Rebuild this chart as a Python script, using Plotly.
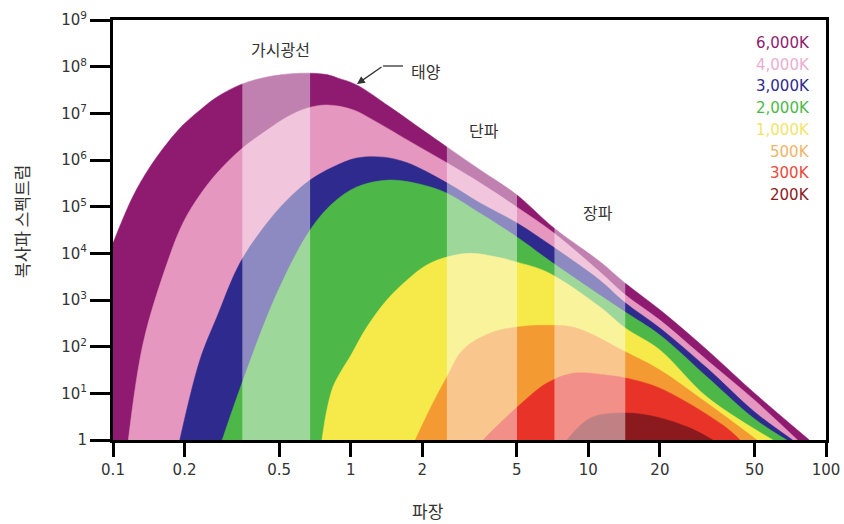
import plotly.graph_objects as go

# ---- data (wavelength in µm, spectral radiance) ----
wl_6000 = [0.100, 0.121, 0.143, 0.169, 0.197, 0.232, 0.274, 0.342, 0.445, 0.612, 0.794, 0.880, 1.06, 1.46, 2.01, 2.54, 3.50, 5.01, 7.10, 11.2, 14.3, 20.0, 31.6, 50.1, 85.1]
val_6000 = [1.66e4, 1.62e5, 7.08e5, 2.29e6, 5.62e6, 1.17e7, 2.24e7, 4.07e7, 6.03e7, 7.24e7, 6.76e7, 5.75e7, 4.07e7, 1.38e7, 4.37e6, 1.91e6, 6.17e5, 1.78e5, 3.63e4, 6.61e3, 2.29e3, 617, 85.1, 10.0, 1.0]

wl_4000 = [0.116, 0.134, 0.169, 0.197, 0.232, 0.274, 0.342, 0.445, 0.540, 0.655, 0.794, 1.02, 1.24, 1.73, 2.54, 3.50, 5.01, 7.10, 11.2, 14.3, 20.0, 31.6, 50.1, 75.9]
val_4000 = [1.0, 120, 6170, 4.47e4, 1.78e5, 5.25e5, 1.62e6, 4.37e6, 8.32e6, 1.29e7, 1.51e7, 1.20e7, 7.24e6, 2.69e6, 8.71e5, 3.24e5, 9.77e4, 2.82e4, 3.98e3, 1.29e3, 372, 51.3, 7.08, 1.0]

wl_3000 = [0.191, 0.232, 0.274, 0.342, 0.445, 0.540, 0.675, 0.843, 1.06, 1.37, 1.73, 2.54, 3.50, 5.01, 7.10, 11.2, 14.3, 20.0, 31.6, 50.1, 72.4]
val_3000 = [1.0, 51.3, 437, 6170, 4.47e4, 1.38e5, 3.72e5, 7.08e5, 1.10e6, 1.15e6, 8.71e5, 3.24e5, 1.20e5, 4.47e4, 1.38e4, 2.63e3, 871, 251, 34.7, 3.98, 1.0]

wl_2000 = [0.288, 0.349, 0.490, 0.675, 0.843, 1.06, 1.46, 2.00, 2.54, 3.50, 5.01, 7.10, 11.2, 14.3, 20.0, 31.6, 50.1, 68.4]
val_2000 = [1.0, 16.6, 1410, 3.16e4, 1.20e5, 2.63e5, 3.72e5, 2.95e5, 1.95e5, 7.24e4, 2.24e4, 6170, 1260, 550, 178, 22.4, 2.82, 1.0]

wl_1000 = [0.757, 0.794, 0.843, 0.918, 0.993, 1.17, 1.42, 1.73, 2.09, 2.54, 3.18, 4.12, 5.01, 6.70, 11.2, 14.3, 20.0, 31.6, 59.8]
val_1000 = [1.0, 4.37, 13.8, 31.6, 60.3, 263, 1000, 2690, 5620, 8320, 1.0e4, 8320, 6460, 3980, 708, 251, 85.1, 8.32, 1.0]

wl_500 = [1.87, 2.22, 2.54, 2.96, 3.85, 5.01, 6.70, 8.91, 14.3, 20.0, 31.6, 51.2]
val_500 = [1.0, 6.17, 22.4, 85.1, 195, 263, 288, 251, 77.6, 31.6, 6.17, 1.0]

wl_300 = [3.61, 3.85, 5.01, 6.70, 8.61, 12.0, 14.3, 20.0, 36.8, 43.5]
val_300 = [1.0, 1.41, 5.01, 16.6, 26.9, 24.5, 21.4, 12.9, 2.09, 1.0]

wl_200 = [8.13, 10.2, 14.3, 19.5, 26.7, 33.4]
val_200 = [1.0, 2.95, 3.80, 3.09, 1.82, 1.0]

temp_labels = ["6,000K", "4,000K", "3,000K", "2,000K", "1,000K", "500K", "300K", "200K"]
fill_colors = ["#8e1b70", "#e697c0", "#2e2a8e", "#4db848", "#f5ea4a", "#f49a32", "#e83428", "#8a1a1e"]
label_colors = ["#8e1b70", "#eaaed0", "#2e2a8e", "#4db848", "#f0e56a", "#f0b468", "#e84a3a", "#8a1a1e"]

# wavelength bands (visible, short-wave, long-wave)
band_lo = [0.35, 2.54, 7.2]
band_hi = [0.675, 5.01, 14.3]

x_tickvals = [0.1, 0.2, 0.5, 1, 2, 5, 10, 20, 50, 100]
x_ticktext = ["0.1", "0.2", "0.5", "1", "2", "5", "10", "20", "50", "100"]
y_tickvals = [1, 1e1, 1e2, 1e3, 1e4, 1e5, 1e6, 1e7, 1e8, 1e9]
y_ticktext = ["1"] + ["10<sup>%d</sup>" % i for i in range(1, 10)]

series = [(wl_6000, val_6000), (wl_4000, val_4000), (wl_3000, val_3000), (wl_2000, val_2000),
          (wl_1000, val_1000), (wl_500, val_500), (wl_300, val_300), (wl_200, val_200)]

fig = go.Figure()
for (wl, val), col, name in zip(series, fill_colors, temp_labels):
    fig.add_trace(go.Scatter(x=[0.1, 100], y=[0.5, 0.5], mode="lines",
                             line=dict(width=0), hoverinfo="skip", showlegend=False))
    fig.add_trace(go.Scatter(x=wl, y=val, mode="lines", name=name,
                             line=dict(width=0.5, color=col, shape="spline", smoothing=1.0),
                             fill="tonexty", fillcolor=col, showlegend=False))

for lo, hi in zip(band_lo, band_hi):
    fig.add_trace(go.Scatter(x=[lo, hi, hi, lo, lo], y=[0.5, 0.5, 1e10, 1e10, 0.5],
                             mode="lines", line=dict(width=0), fill="toself",
                             fillcolor="rgba(255,255,255,0.45)", hoverinfo="skip",
                             showlegend=False))

L, R, T, B = 113, 18, 20, 84
W, H = 844, 524
pw, ph = W - L - R, H - T - B


def px(xp):
    return (xp - L) / pw


def py(yp):
    return (H - B - yp) / ph


kfont = "Noto Sans CJK KR"
annotations = []
for i, (txt, col) in enumerate(zip(temp_labels, label_colors)):
    annotations.append(dict(x=px(812), y=py(43 + i * 21.7), xref="paper", yref="paper",
                            text=txt, showarrow=False, xanchor="right", yanchor="middle",
                            font=dict(family="DejaVu Sans", size=15, color=col)))

for txt, xp, yp in [("가시광선", 280, 49), ("태양", 426, 71), ("단파", 484, 130), ("장파", 598, 212)]:
    annotations.append(dict(x=px(xp), y=py(yp), xref="paper", yref="paper", text=txt,
                            showarrow=False, xanchor="center", yanchor="middle",
                            font=dict(family=kfont, size=16, color="#333333")))

# arrow pointing to the sun curve
annotations.append(dict(x=px(357), y=py(84), xref="paper", yref="paper", text="",
                        showarrow=True, ax=26, ay=-18, arrowhead=2, arrowsize=1.2,
                        arrowwidth=1.3, arrowcolor="#333333"))
annotations.append(dict(x=px(428), y=py(510), xref="paper", yref="paper", text="파장",
                        showarrow=False, xanchor="center", yanchor="middle",
                        font=dict(family=kfont, size=17, color="#333333")))
annotations.append(dict(x=px(22), y=py(222), xref="paper", yref="paper", text="복사파 스펙트럼",
                        showarrow=False, textangle=-90, xanchor="center", yanchor="middle",
                        font=dict(family=kfont, size=17, color="#333333")))

shapes = [dict(type="line", xref="paper", yref="paper", x0=px(383), x1=px(403),
               y0=py(66), y1=py(66), line=dict(color="#333333", width=1.3))]

fig.update_layout(
    width=W, height=H,
    margin=dict(l=L, r=R, t=T, b=B, autoexpand=False),
    paper_bgcolor="white", plot_bgcolor="white",
    showlegend=False,
    annotations=annotations,
    shapes=shapes,
    xaxis=dict(type="log", range=[-1, 2], tickvals=x_tickvals, ticktext=x_ticktext,
               ticks="outside", ticklen=14, tickwidth=3, tickcolor="black",
               showline=True, linewidth=3, linecolor="black", mirror=True,
               showgrid=False, zeroline=False,
               tickfont=dict(family="DejaVu Sans", size=15, color="#333333")),
    yaxis=dict(type="log", range=[0, 9], tickvals=y_tickvals, ticktext=y_ticktext,
               ticks="outside", ticklen=20, tickwidth=3, tickcolor="black",
               showline=True, linewidth=3, linecolor="black", mirror=True,
               showgrid=False, zeroline=False,
               tickfont=dict(family="DejaVu Sans", size=15, color="#333333")),
)

fig.write_html("out.html", config={"displayModeBar": False},
               post_script="document.body.style.margin='0';")
